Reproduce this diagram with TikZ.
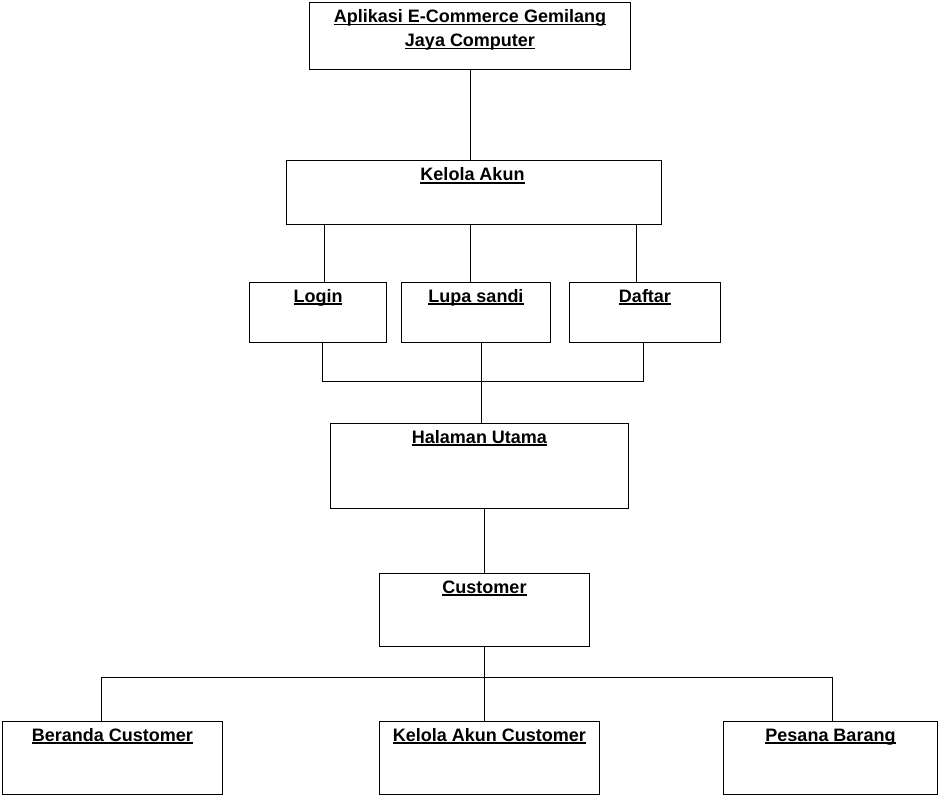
\documentclass[tikz,border=0pt]{standalone}
\usepackage{fontspec}
\setmainfont{Liberation Sans}
\newcommand\ulx[1]{\setbox0=\hbox{#1}\rlap{\vrule height -1.4pt depth 2.8pt width \wd0}\box0}
\begin{document}
\begin{tikzpicture}[x=1pt,y=-1pt,
  box/.style={draw, line width=1pt, anchor=north west, inner sep=0pt},
  lbl/.style={anchor=base, inner sep=0pt, font=\bfseries\fontsize{18}{24}\selectfont},
  conn/.style={line width=0.9pt}]
\useasboundingbox[fill=white] (0,0) rectangle (943,797);
% boxes
\node[box, minimum width=321pt, minimum height=67pt] (top) at (309,2) {};
\node[box, minimum width=375pt, minimum height=64pt] (kelola) at (286,160) {};
\node[box, minimum width=137pt, minimum height=60pt] (login) at (249,282) {};
\node[box, minimum width=149pt, minimum height=60pt] (lupa) at (401,282) {};
\node[box, minimum width=151pt, minimum height=60pt] (daftar) at (569,282) {};
\node[box, minimum width=298pt, minimum height=85pt] (halaman) at (330,423) {};
\node[box, minimum width=210pt, minimum height=73pt] (customer) at (379,573) {};
\node[box, minimum width=220pt, minimum height=73pt] (beranda) at (2,721) {};
\node[box, minimum width=220pt, minimum height=73pt] (kac) at (379,721) {};
\node[box, minimum width=214pt, minimum height=73pt] (pesan) at (723,721) {};
% labels
\node[lbl] (tTopA) at ([yshift=-20.5pt]top.north) {\ulx{Aplikasi E-Commerce Gemilang}};
\node[lbl] (tTopB) at ([yshift=-44.5pt]top.north) {\ulx{Jaya Computer}};
\node[lbl] (tKelola) at ([yshift=-21pt,xshift=-1.5pt]kelola.north) {\ulx{Kelola Akun}};
\node[lbl] (tLogin) at ([yshift=-20pt]login.north) {\ulx{Login}};
\node[lbl] (tLupa) at ([yshift=-20pt]lupa.north) {\ulx{Lupa sandi}};
\node[lbl] (tDaftar) at ([yshift=-20pt]daftar.north) {\ulx{Daftar}};
\node[lbl] (tHalaman) at ([yshift=-20pt]halaman.north) {\ulx{Halaman Utama}};
\node[lbl] (tCustomer) at ([yshift=-20pt]customer.north) {\ulx{Customer}};
\node[lbl] (tBeranda) at ([yshift=-20pt]beranda.north) {\ulx{Beranda Customer}};
\node[lbl] (tKac) at ([yshift=-20pt]kac.north) {\ulx{Kelola Akun Customer}};
\node[lbl] (tPesan) at ([yshift=-20pt]pesan.north) {\ulx{Pesana Barang}};
% connectors
\draw[conn] (top.south) -- (top.south |- kelola.north);
\draw[conn] ([xshift=6pt]login.north |- kelola.south) -- ([xshift=6pt]login.north);
\draw[conn] ([xshift=-5.5pt]lupa.north |- kelola.south) -- ([xshift=-5.5pt]lupa.north);
\draw[conn] ([xshift=-8.5pt]daftar.north |- kelola.south) -- ([xshift=-8.5pt]daftar.north);
\coordinate (busA) at (0,381);
\draw[conn] ([xshift=4.5pt]login.south) -- ([xshift=4.5pt]login.south |- busA) -- ([xshift=-1.5pt]daftar.south |- busA) -- ([xshift=-1.5pt]daftar.south);
\draw[conn] ([xshift=5.5pt]lupa.south) -- ([xshift=5.5pt]lupa.south |- halaman.north);
\draw[conn] (customer.north |- halaman.south) -- (customer.north);
\coordinate (busB) at (0,677);
\draw[conn] (customer.south) -- (customer.south |- kac.north);
\draw[conn] ([xshift=-11pt]beranda.north) -- ([xshift=-11pt]beranda.north |- busB) -- ([xshift=2pt]pesan.north |- busB) -- ([xshift=2pt]pesan.north);
\end{tikzpicture}
\end{document}
